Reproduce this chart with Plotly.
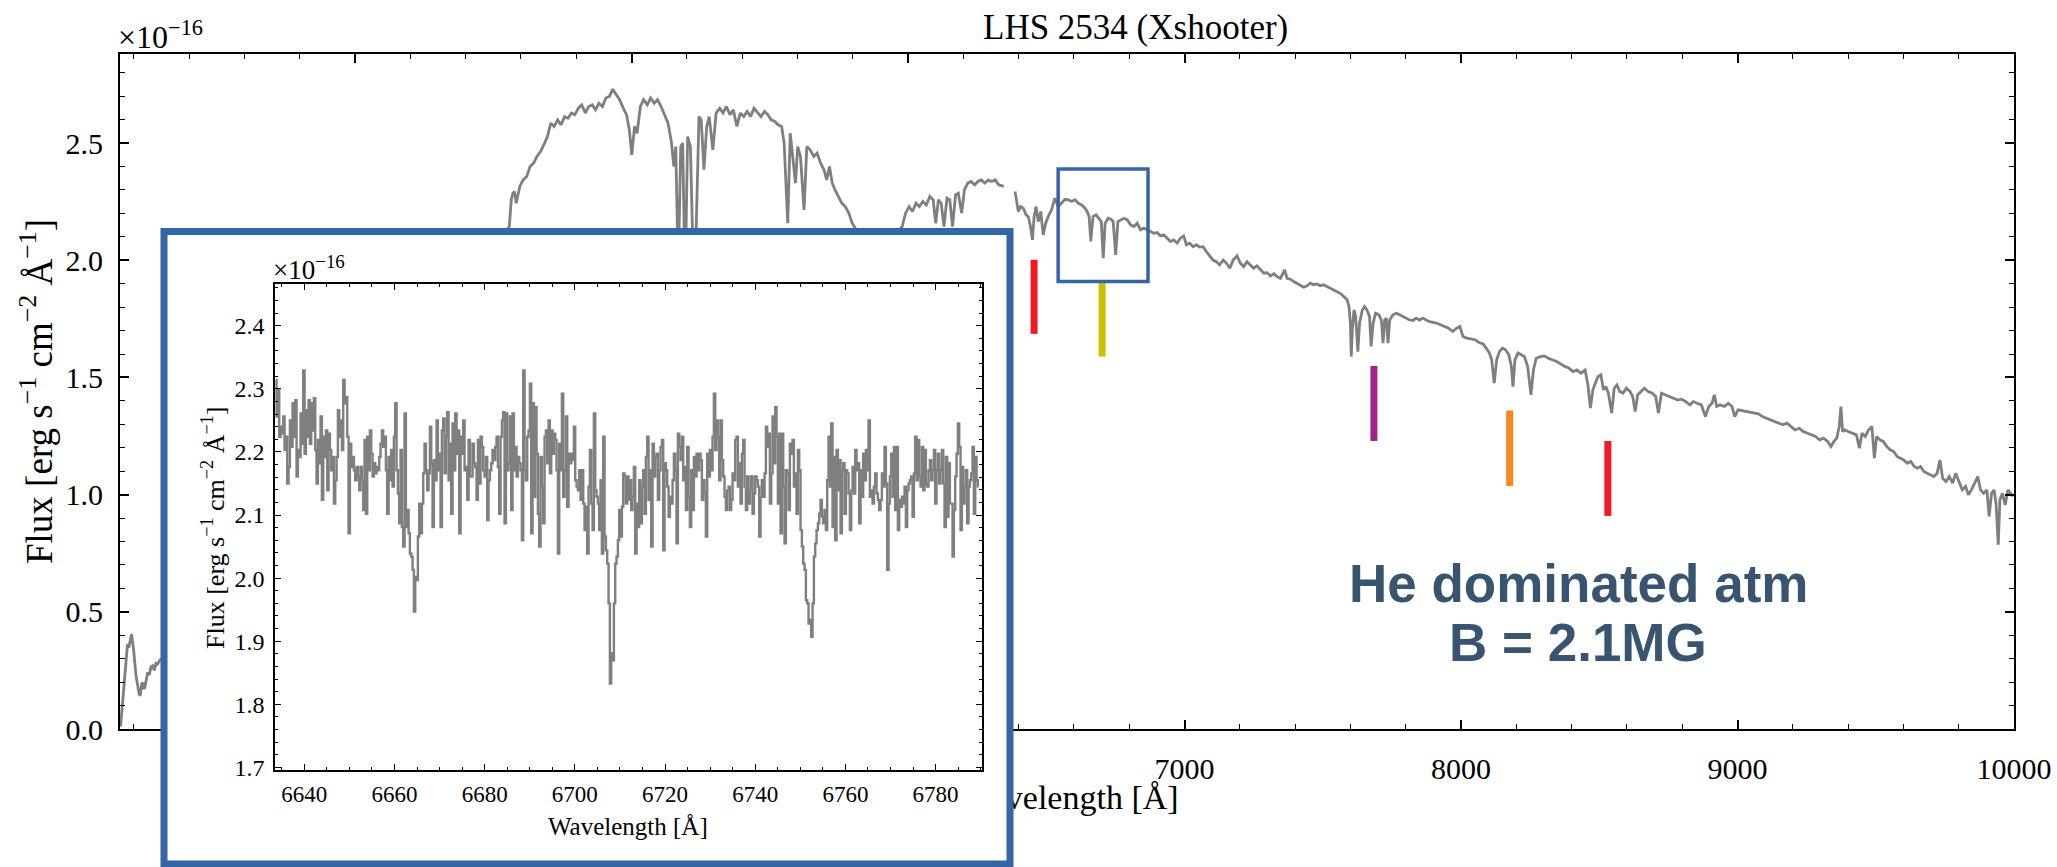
import numpy as np
import plotly.graph_objects as go

# ---------------- spectrum data (flux in units of 1e-16 erg/s/cm^2/A) ----------------
# UVB arm up to the dichroic gap (wavelength [A], flux)
spec_uv = [
    (3152, 0.01), (3158, 0.10), (3163, 0.17), (3171, 0.31), (3177, 0.36), (3183, 0.355),
    (3188, 0.38), (3192, 0.405), (3199, 0.34), (3204, 0.27), (3208, 0.227), (3214, 0.185),
    (3219, 0.15), (3223, 0.142), (3228, 0.19), (3232, 0.199), (3236, 0.17), (3240, 0.178),
    (3245, 0.22), (3250, 0.241), (3256, 0.23), (3262, 0.265), (3268, 0.27), (3274, 0.25),
    (3280, 0.28), (3286, 0.277), (3292, 0.29), (3298, 0.298),
    (3350, 0.33), (3450, 0.55), (3600, 0.90), (3800, 1.35), (4000, 1.70), (4200, 1.90),
    (4400, 2.02), (4520, 2.08),
    (4558, 2.144), (4565, 2.258), (4571, 2.286), (4577, 2.293), (4583, 2.243), (4596, 2.315),
    (4608, 2.343), (4621, 2.357), (4633, 2.400), (4646, 2.414), (4658, 2.443), (4671, 2.464),
    (4683, 2.493), (4696, 2.528), (4708, 2.585), (4720, 2.571), (4733, 2.599), (4745, 2.578),
    (4758, 2.613), (4770, 2.606), (4783, 2.628), (4795, 2.621), (4808, 2.649), (4820, 2.663),
    (4833, 2.628), (4845, 2.656), (4858, 2.663), (4870, 2.642), (4882, 2.670), (4895, 2.656),
    (4907, 2.692), (4920, 2.699), (4932, 2.730), (4945, 2.706), (4957, 2.685), (4970, 2.649),
    (4982, 2.621), (4992, 2.557), (5001, 2.450), (5011, 2.571), (5020, 2.542), (5032, 2.656),
    (5044, 2.685), (5057, 2.663), (5069, 2.692), (5082, 2.670), (5094, 2.685), (5107, 2.656),
    (5119, 2.621), (5132, 2.585), (5144, 2.507), (5153, 2.400), (5160, 2.485), (5169, 1.950),
    (5178, 2.485), (5185, 2.500), (5194, 1.900), (5203, 2.528), (5213, 2.485), (5223, 2.000),
    (5231, 2.000), (5244, 2.613), (5252, 2.599), (5262, 2.386), (5272, 2.571), (5281, 2.613),
    (5294, 2.471), (5306, 2.628), (5319, 2.649), (5331, 2.628), (5343, 2.656), (5356, 2.621),
    (5368, 2.642), (5381, 2.571), (5393, 2.628), (5406, 2.613), (5418, 2.635), (5431, 2.613),
    (5443, 2.649), (5456, 2.628), (5468, 2.613), (5481, 2.635), (5493, 2.621), (5505, 2.599),
    (5518, 2.592), (5530, 2.578), (5543, 2.571), (5552, 2.500), (5559, 2.343), (5565, 2.158),
    (5574, 2.542), (5584, 2.443), (5593, 2.329), (5601, 2.485), (5611, 2.443), (5624, 2.215),
    (5634, 2.485), (5646, 2.471), (5659, 2.443), (5671, 2.457), (5684, 2.414), (5696, 2.386),
    (5706, 2.343), (5716, 2.400), (5726, 2.329), (5736, 2.300), (5748, 2.272), (5761, 2.243),
    (5773, 2.229), (5786, 2.201), (5798, 2.158), (5850, 2.060), (5920, 2.070),
    (5979, 2.144), (5991, 2.201), (6004, 2.229), (6016, 2.208), (6029, 2.243), (6041, 2.229),
    (6054, 2.251), (6066, 2.236), (6079, 2.272), (6091, 2.258), (6100, 2.158), (6110, 2.258),
    (6120, 2.243), (6130, 2.144), (6141, 2.265), (6151, 2.258), (6161, 2.144), (6172, 2.279),
    (6182, 2.286), (6194, 2.201), (6204, 2.300), (6216, 2.329), (6228, 2.336), (6241, 2.322),
    (6253, 2.336), (6265, 2.343), (6278, 2.329), (6290, 2.343), (6303, 2.336), (6315, 2.343),
    (6328, 2.322), (6346, 2.315),
]

# VIS arm
spec_vis = [
    (6387, 2.293), (6393, 2.243), (6399, 2.208), (6407, 2.229), (6417, 2.222), (6427, 2.194),
    (6435, 2.186), (6443, 2.144), (6450, 2.087), (6456, 2.186), (6463, 2.229), (6471, 2.165),
    (6480, 2.208), (6489, 2.108), (6498, 2.158), (6507, 2.186), (6519, 2.215), (6531, 2.265),
    (6543, 2.229), (6555, 2.243), (6568, 2.260), (6580, 2.258), (6592, 2.251), (6604, 2.258),
    (6616, 2.243), (6628, 2.236), (6640, 2.222), (6648, 2.208), (6655, 2.186), (6661, 2.080),
    (6669, 2.186), (6680, 2.194), (6690, 2.179), (6699, 2.165), (6706, 2.009), (6713, 2.158),
    (6724, 2.179), (6734, 2.175), (6742, 2.165), (6751, 2.023), (6759, 2.165), (6769, 2.172),
    (6781, 2.179), (6793, 2.172), (6805, 2.151), (6817, 2.144), (6829, 2.158), (6841, 2.130),
    (6853, 2.137), (6865, 2.130), (6877, 2.122), (6889, 2.115), (6901, 2.118), (6913, 2.104),
    (6925, 2.108), (6937, 2.094), (6949, 2.080), (6961, 2.087), (6973, 2.073), (6985, 2.094),
    (6997, 2.104), (7007, 2.066), (7019, 2.073), (7031, 2.058), (7043, 2.066), (7055, 2.056),
    (7067, 2.058), (7079, 2.037), (7091, 2.019), (7103, 2.001), (7115, 1.994), (7127, 1.980),
    (7140, 2.001), (7152, 1.987), (7164, 1.966), (7176, 2.001), (7190, 2.019), (7202, 1.987),
    (7214, 1.973), (7226, 1.994), (7238, 1.980), (7250, 1.966), (7262, 1.976), (7274, 1.959),
    (7287, 1.945), (7299, 1.947), (7311, 1.933), (7323, 1.942), (7335, 1.930), (7347, 1.923),
    (7362, 1.959), (7371, 1.923), (7383, 1.919), (7395, 1.909), (7407, 1.902), (7419, 1.895),
    (7431, 1.885), (7443, 1.891), (7455, 1.902), (7467, 1.895), (7479, 1.899), (7491, 1.891),
    (7503, 1.895), (7515, 1.888), (7527, 1.881), (7539, 1.873), (7551, 1.866), (7563, 1.859),
    (7576, 1.845), (7588, 1.831), (7595, 1.802), (7600, 1.731), (7603, 1.589), (7607, 1.703),
    (7613, 1.788), (7619, 1.760), (7627, 1.610), (7633, 1.731), (7643, 1.788), (7651, 1.802),
    (7660, 1.788), (7669, 1.760), (7675, 1.632), (7682, 1.731), (7691, 1.774), (7703, 1.767),
    (7712, 1.745), (7718, 1.646), (7724, 1.745), (7730, 1.753), (7736, 1.646), (7742, 1.745),
    (7754, 1.767), (7766, 1.774), (7778, 1.767), (7790, 1.760), (7802, 1.753), (7814, 1.745),
    (7826, 1.743), (7838, 1.753), (7850, 1.745), (7862, 1.753), (7874, 1.745), (7886, 1.738),
]

# red end of the VIS arm
spec_red = [
    (7911, 1.732), (7925, 1.725), (7940, 1.718), (7955, 1.710), (7970, 1.696), (7984, 1.710),
    (7996, 1.717), (8007, 1.675), (8021, 1.668), (8036, 1.663), (8051, 1.661), (8065, 1.649),
    (8080, 1.643), (8091, 1.625), (8102, 1.606), (8111, 1.575), (8120, 1.476), (8129, 1.575),
    (8139, 1.610), (8150, 1.625), (8161, 1.618), (8173, 1.597), (8182, 1.547), (8188, 1.461),
    (8195, 1.575), (8206, 1.604), (8217, 1.597), (8229, 1.589), (8241, 1.547), (8253, 1.426),
    (8262, 1.532), (8272, 1.582), (8287, 1.589), (8301, 1.592), (8316, 1.582), (8331, 1.575),
    (8346, 1.568), (8360, 1.558), (8375, 1.547), (8390, 1.540), (8405, 1.525), (8419, 1.532),
    (8434, 1.518), (8449, 1.532), (8459, 1.468), (8468, 1.369), (8477, 1.447), (8486, 1.476),
    (8496, 1.504), (8506, 1.511), (8515, 1.447), (8524, 1.461), (8533, 1.433), (8545, 1.348),
    (8554, 1.454), (8564, 1.468), (8574, 1.440), (8586, 1.433), (8598, 1.454), (8611, 1.440),
    (8621, 1.419), (8630, 1.355), (8639, 1.426), (8651, 1.440), (8663, 1.454), (8677, 1.440),
    (8692, 1.433), (8704, 1.419), (8714, 1.348), (8725, 1.433), (8739, 1.426), (8754, 1.419),
    (8769, 1.412), (8784, 1.404), (8798, 1.407), (8813, 1.397), (8828, 1.383), (8840, 1.397),
    (8854, 1.390), (8869, 1.383), (8884, 1.333), (8896, 1.376), (8908, 1.390), (8916, 1.426),
    (8925, 1.376), (8937, 1.383), (8952, 1.376), (8967, 1.390), (8980, 1.376), (8990, 1.333),
    (9002, 1.362), (9017, 1.359), (9031, 1.355), (9046, 1.350), (9061, 1.348), (9076, 1.345),
    (9090, 1.333), (9105, 1.326), (9120, 1.319), (9135, 1.312), (9149, 1.305), (9164, 1.298),
    (9179, 1.305), (9194, 1.291), (9208, 1.276), (9223, 1.283), (9238, 1.269), (9253, 1.262),
    (9267, 1.255), (9282, 1.248), (9297, 1.234), (9311, 1.241), (9326, 1.227), (9338, 1.205),
    (9349, 1.227), (9359, 1.241), (9368, 1.291), (9374, 1.376), (9380, 1.269), (9388, 1.276),
    (9400, 1.269), (9415, 1.262), (9430, 1.255), (9441, 1.198), (9450, 1.262), (9462, 1.248),
    (9474, 1.276), (9486, 1.291), (9495, 1.156), (9503, 1.248), (9515, 1.234), (9527, 1.227),
    (9540, 1.205), (9552, 1.191), (9565, 1.184), (9577, 1.163), (9589, 1.156), (9601, 1.148),
    (9614, 1.134), (9627, 1.141), (9639, 1.120), (9651, 1.113), (9662, 1.120), (9674, 1.099),
    (9686, 1.091), (9698, 1.084), (9710, 1.077), (9722, 1.091), (9732, 1.148), (9742, 1.070),
    (9754, 1.056), (9766, 1.077), (9778, 1.049), (9789, 1.091), (9801, 1.056), (9813, 1.020),
    (9825, 1.035), (9835, 0.999), (9846, 1.020), (9857, 1.049), (9869, 1.077), (9879, 1.020),
    (9890, 1.006), (9902, 1.020), (9910, 0.907), (9919, 1.006), (9928, 1.020), (9935, 0.963),
    (9943, 0.786), (9949, 0.978), (9958, 1.006), (9968, 0.956), (9978, 1.020), (9987, 1.006),
    (9996, 0.992),
]

# zoomed spectrum around the Zeeman triplet (linear wavelength grid)
inset_crval1 = 6633.70   # first pixel wavelength [A]
inset_cdelt1 = 0.2957    # pixel size [A]
inset_flux_blue = [
    2.314, 2.256, 2.298, 2.224, 2.240, 2.229, 2.256, 2.203, 2.224, 2.150,
    2.176, 2.250, 2.208, 2.277, 2.224, 2.282, 2.161, 2.203, 2.192, 2.261,
    2.213, 2.329, 2.197, 2.266, 2.224, 2.282, 2.213, 2.277, 2.234, 2.285,
    2.203, 2.150, 2.219, 2.182, 2.256, 2.124, 2.224, 2.192, 2.234, 2.139,
    2.229, 2.203, 2.171, 2.192, 2.118, 2.155, 2.192, 2.266, 2.224, 2.250,
    2.203, 2.314, 2.277, 2.287, 2.224, 2.071, 2.213, 2.176, 2.192, 2.171,
    2.155, 2.176, 2.161, 2.139, 2.176, 2.155, 2.108, 2.219, 2.102, 2.224,
    2.171, 2.234, 2.197, 2.161, 2.182, 2.166, 2.176, 2.171, 2.192, 2.213,
    2.234, 2.208, 2.224, 2.171, 2.102, 2.192, 2.155, 2.203, 2.145, 2.224,
    2.277, 2.171, 2.134, 2.087, 2.203, 2.081, 2.050, 2.261, 2.081, 2.108,
    2.071, 2.039, 2.034, 2.013, 1.947, 2.002, 1.997, 2.066, 2.118, 2.071,
    2.118, 2.166, 2.213, 2.171, 2.139, 2.166, 2.240, 2.182, 2.081, 2.187,
    2.155, 2.250, 2.171, 2.197, 2.081, 2.234, 2.253, 2.166, 2.224, 2.263,
    2.155, 2.213, 2.102, 2.245, 2.171, 2.261, 2.197, 2.234, 2.071, 2.224,
    2.197, 2.250, 2.171, 2.176, 2.124, 2.219, 2.161, 2.161, 2.213, 2.182,
    2.176, 2.124, 2.219, 2.150, 2.224, 2.208, 2.171, 2.161, 2.192, 2.092,
    2.155, 2.171, 2.182, 2.203, 2.187, 2.208, 2.224, 2.176, 2.102, 2.224,
    2.250, 2.263, 2.087, 2.261, 2.171, 2.182, 2.256, 2.108, 2.261, 2.171,
    2.208, 2.161, 2.192, 2.182, 2.171, 2.060, 2.329, 2.171, 2.155, 2.224,
    2.234, 2.308, 2.071, 2.277, 2.129, 2.271, 2.197, 2.102, 2.050, 2.192,
    2.145, 2.087, 2.224, 2.234, 2.182, 2.250, 2.166, 2.234, 2.197, 2.229,
    2.219, 2.171, 2.039, 2.213, 2.171, 2.292, 2.129, 2.171, 2.256, 2.113,
    2.197, 2.182, 2.197, 2.187, 2.240, 2.155, 2.145, 2.139, 2.171, 2.124,
    2.171, 2.118, 2.076, 2.113, 2.039, 2.145, 2.203, 2.118, 2.076, 2.261,
    2.139, 2.129, 2.118, 2.076, 2.155, 2.039, 2.224, 2.066, 2.044, 2.023,
    1.960, 1.833, 1.881, 1.870, 1.960, 2.023, 2.034, 2.060, 2.108, 2.066,
    2.113, 2.166, 2.161, 2.118, 2.161, 2.124,
]
inset_flux_red = [
    2.155, 2.108, 2.129, 2.176, 2.039, 2.118, 2.081, 2.155, 2.087, 2.145,
    2.171, 2.102, 2.192, 2.224, 2.124, 2.171, 2.050, 2.213, 2.161, 2.192,
    2.197, 2.124, 2.171, 2.208, 2.219, 2.044, 2.182, 2.171, 2.145, 2.097,
    2.129, 2.118, 2.155, 2.197, 2.171, 2.055, 2.229, 2.208, 2.187, 2.224,
    2.155, 2.176, 2.108, 2.208, 2.129, 2.081, 2.171, 2.108, 2.192, 2.161,
    2.197, 2.171, 2.197, 2.187, 2.124, 2.155, 2.134, 2.066, 2.197, 2.161,
    2.203, 2.171, 2.224, 2.292, 2.203, 2.250, 2.224, 2.155, 2.250, 2.187,
    2.161, 2.129, 2.108, 2.139, 2.145, 2.108, 2.124, 2.166, 2.155, 2.219,
    2.224, 2.145, 2.182, 2.118, 2.197, 2.219, 2.145, 2.108, 2.161, 2.118,
    2.139, 2.161, 2.102, 2.134, 2.161, 2.155, 2.145, 2.066, 2.129, 2.155,
    2.129, 2.166, 2.240, 2.208, 2.229, 2.118, 2.166, 2.256, 2.182, 2.271,
    2.224, 2.118, 2.229, 2.071, 2.229, 2.145, 2.055, 2.171, 2.166, 2.108,
    2.213, 2.197, 2.219, 2.145, 2.166, 2.102, 2.203, 2.171, 2.076, 2.050,
    2.023, 2.013, 1.965, 1.960, 1.928, 1.934, 1.907, 1.960, 2.034, 2.055,
    2.076, 2.087, 2.102, 2.124, 2.097, 2.087, 2.108, 2.076, 2.155, 2.224,
    2.145, 2.245, 2.081, 2.192, 2.060, 2.203, 2.139, 2.187, 2.071, 2.171,
    2.182, 2.102, 2.171, 2.166, 2.134, 2.076, 2.139, 2.176, 2.134, 2.203,
    2.171, 2.182, 2.087, 2.171, 2.129, 2.197, 2.155, 2.203, 2.171, 2.250,
    2.129, 2.139, 2.118, 2.145, 2.166, 2.134, 2.124, 2.108, 2.124, 2.166,
    2.145, 2.208, 2.150, 2.013, 2.118, 2.161, 2.197, 2.129, 2.208, 2.108,
    2.208, 2.076, 2.124, 2.113, 2.129, 2.118, 2.145, 2.081, 2.139, 2.150,
    2.155, 2.161, 2.097, 2.166, 2.224, 2.155, 2.219, 2.161, 2.145, 2.208,
    2.139, 2.203, 2.150, 2.145, 2.171, 2.187, 2.155, 2.171, 2.203, 2.118,
    2.171, 2.197, 2.150, 2.171, 2.203, 2.150, 2.081, 2.192, 2.097, 2.182,
    2.118, 2.118, 2.034, 2.108, 2.161, 2.197, 2.245, 2.208, 2.076, 2.176,
    2.118, 2.145, 2.171, 2.087, 2.145, 2.155, 2.166, 2.208, 2.102, 2.192,
    2.155, 2.145,
]

# line identifications: wavelength [A], top and bottom of tick [flux], colour
id_wave = [6456, 6702, 7685, 8176, 8531]
id_top = [2.002, 1.902, 1.549, 1.359, 1.229]
id_bottom = [1.686, 1.589, 1.229, 1.037, 0.909]
id_colors = ["#ED1C24", "#CFBF00", "#A3238E", "#F7861F", "#ED1C24"]

# zoom window drawn on the main panel: wavelength and flux limits
zoom_wave = [6543, 6868]
zoom_flux = [1.909, 2.389]

# ---------------- figure geometry (pixels) ----------------
W, H = 2057, 867


def px(x):
    return x / W


def py(y):
    return 1 - y / H


GREY = "#7F7F7F"
BLUE = "#3465A4"
SERIF = "Liberation Serif"
INK = "#38546F"

main_wl = [w for w, _ in spec_uv] + [None] + [w for w, _ in spec_vis + spec_red]
main_fl = [f for _, f in spec_uv] + [None] + [f for _, f in spec_vis + spec_red]

inset_flux = np.array(inset_flux_blue + inset_flux_red)
inset_wl = inset_crval1 + inset_cdelt1 * np.arange(inset_flux.size)

fig = go.Figure()

# main spectrum
fig.add_trace(go.Scatter(
    x=main_wl, y=main_fl, mode="lines", connectgaps=False,
    line=dict(color=GREY, width=2.8), xaxis="x", yaxis="y",
))

for w, top, bot, col in zip(id_wave, id_top, id_bottom, id_colors):
    fig.add_trace(go.Scatter(
        x=[w, w], y=[bot, top], mode="lines",
        line=dict(color=col, width=7), xaxis="x", yaxis="y",
    ))

# x-axis label of the main panel, kept in a subplot stacked below the inset panel
fig.add_trace(go.Scatter(
    x=[0.5], y=[0.5], mode="text", text=["Wavelength [Å]"],
    textfont=dict(family=SERIF, size=34, color="black"),
    textposition="middle center", cliponaxis=False, xaxis="x2", yaxis="y2",
))

# opaque panel that hosts the inset
fig.add_trace(go.Scatter(x=[None], y=[None], xaxis="x3", yaxis="y3", mode="lines"))

# inset spectrum
fig.add_trace(go.Scatter(
    x=inset_wl, y=inset_flux, mode="lines",
    line=dict(color=GREY, width=2.4, shape="hvh"), xaxis="x4", yaxis="y4",
))

axis_common = dict(
    showline=True, linecolor="black", mirror="ticks", ticks="inside",
    tickcolor="black", showgrid=False, zeroline=False, automargin=False,
)

fig.update_layout(
    width=W, height=H,
    margin=dict(l=0, r=0, t=0, b=0),
    paper_bgcolor="white", plot_bgcolor="white",
    showlegend=False, hovermode=False,
    xaxis=dict(
        **axis_common, domain=[px(120), px(2014)], anchor="y",
        range=[3150, 10000], dtick=1000, tick0=0, tickformat="d",
        linewidth=2, ticklen=9, tickwidth=1.5,
        minor=dict(dtick=200, tick0=0, ticks="inside", ticklen=5, tickwidth=1.2, tickcolor="black"),
        tickfont=dict(family=SERIF, size=30, color="black"), ticklabelstandoff=12,
    ),
    yaxis=dict(
        **axis_common, domain=[py(729), py(54)], anchor="x",
        range=[0, 2.88], dtick=0.5, tick0=0, tickformat=".1f",
        linewidth=2, ticklen=9, tickwidth=1.5,
        minor=dict(dtick=0.1, tick0=0, ticks="inside", ticklen=5, tickwidth=1.2, tickcolor="black"),
        tickfont=dict(family=SERIF, size=30, color="black"), ticklabelstandoff=9,
    ),
    xaxis2=dict(domain=[px(900), px(1240)], anchor="y2", range=[0, 1], visible=False),
    yaxis2=dict(domain=[py(830), py(770)], anchor="x2", range=[0, 1], visible=False),
    xaxis3=dict(domain=[px(164), px(1010)], anchor="y3", range=[0, 1], visible=False),
    yaxis3=dict(domain=[py(864), py(231.5)], anchor="x3", range=[0, 1], visible=False),
    xaxis4=dict(
        **axis_common, domain=[px(275), px(982)], anchor="y4",
        range=[6633.5, 6790.3], dtick=20, tick0=0, tickformat="d",
        linewidth=1.5, ticklen=6, tickwidth=1.2,
        minor=dict(dtick=5, tick0=0, ticks="inside", ticklen=3.5, tickwidth=1, tickcolor="black"),
        tickfont=dict(family=SERIF, size=23, color="black"), ticklabelstandoff=3,
    ),
    yaxis4=dict(
        **axis_common, domain=[py(770), py(284)], anchor="x4",
        range=[1.696, 2.466], dtick=0.1, tick0=0, tickformat=".1f",
        linewidth=1.5, ticklen=6, tickwidth=1.2,
        minor=dict(dtick=0.02, tick0=0, ticks="inside", ticklen=3.5, tickwidth=1, tickcolor="black"),
        tickfont=dict(family=SERIF, size=24, color="black"), ticklabelstandoff=4,
    ),
    shapes=[
        dict(type="rect", xref="paper", yref="paper",
             x0=px(164), x1=px(1010), y0=py(864), y1=py(231.5),
             line=dict(color=BLUE, width=7), fillcolor="rgba(0,0,0,0)", layer="above"),
        dict(type="rect", xref="x", yref="y",
             x0=zoom_wave[0], x1=zoom_wave[1], y0=zoom_flux[0], y1=zoom_flux[1],
             line=dict(color=BLUE, width=3.5), fillcolor="rgba(0,0,0,0)", layer="above"),
    ],
    annotations=[
        dict(text="LHS 2534 (Xshooter)", x=px(1135), y=py(27), xref="paper", yref="paper",
             xanchor="center", yanchor="middle", showarrow=False,
             font=dict(family=SERIF, size=35, color="black")),
        dict(text="×10<sup>−16</sup>", x=px(116), y=py(57), xref="paper", yref="paper",
             xanchor="left", yanchor="bottom", showarrow=False,
             font=dict(family=SERIF, size=32, color="black")),
        dict(text="Flux [erg s<sup>−1</sup> cm<sup>−2</sup> Å<sup>−1</sup>]", textangle=-90,
             x=px(36), y=py(392), xref="paper", yref="paper",
             xanchor="center", yanchor="middle", showarrow=False,
             font=dict(family=SERIF, size=37, color="black")),
        dict(text="×10<sup>−16</sup>", x=px(271), y=py(287), xref="paper", yref="paper",
             xanchor="left", yanchor="bottom", showarrow=False,
             font=dict(family=SERIF, size=27, color="black")),
        dict(text="Flux [erg s<sup>−1</sup> cm<sup>−2</sup> Å<sup>−1</sup>]", textangle=-90,
             x=px(213), y=py(528), xref="paper", yref="paper",
             xanchor="center", yanchor="middle", showarrow=False,
             font=dict(family=SERIF, size=26, color="black")),
        dict(text="Wavelength [Å]", x=px(628), y=py(826), xref="paper", yref="paper",
             xanchor="center", yanchor="middle", showarrow=False,
             font=dict(family=SERIF, size=25, color="black")),
        dict(text="<b>He dominated atm</b>", x=px(1578), y=py(583), xref="paper", yref="paper",
             xanchor="center", yanchor="middle", showarrow=False,
             font=dict(family="Liberation Sans", size=53, color=INK)),
        dict(text="<b>B = 2.1MG</b>", x=px(1578), y=py(642), xref="paper", yref="paper",
             xanchor="center", yanchor="middle", showarrow=False,
             font=dict(family="Liberation Sans", size=53, color=INK)),
    ],
)

fig.write_html("out.html")
